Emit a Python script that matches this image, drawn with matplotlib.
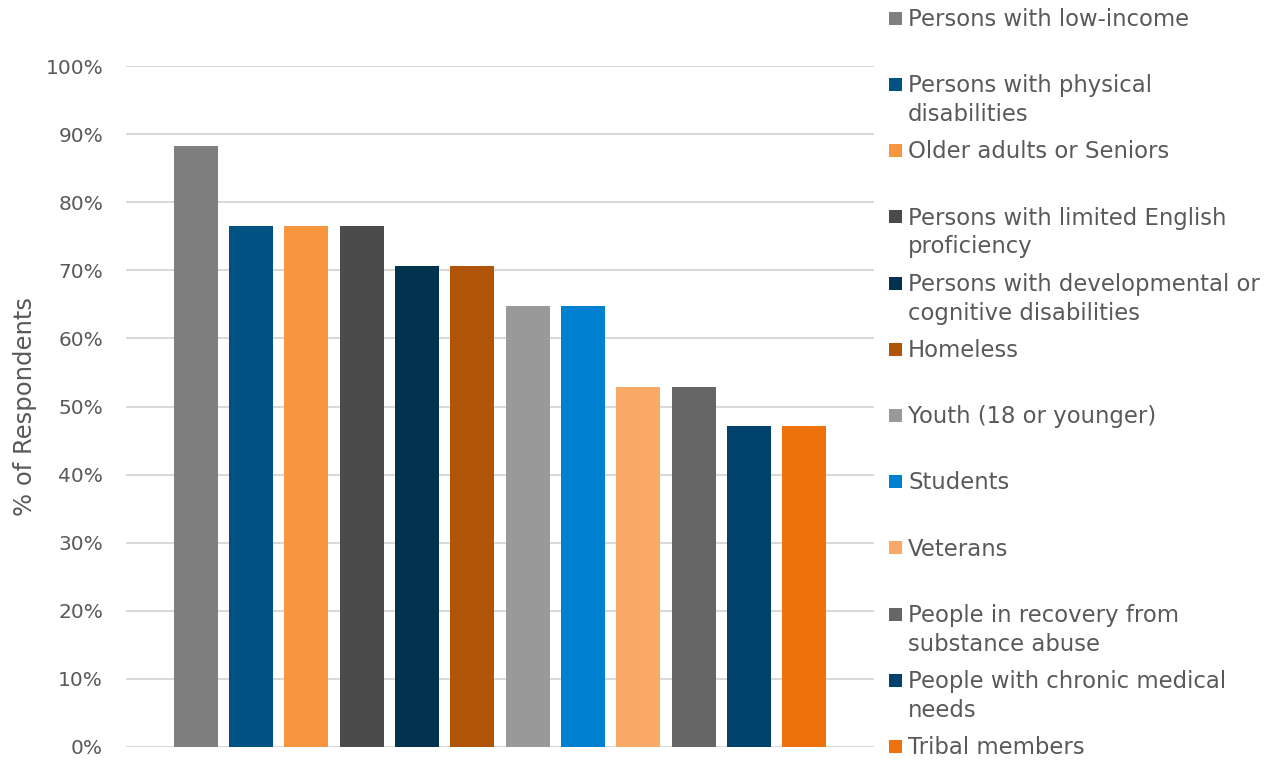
import matplotlib
matplotlib.use("Agg")
import matplotlib.pyplot as plt
from matplotlib.patches import Rectangle

categories = [
    "Persons with low-income",
    "Persons with physical\ndisabilities",
    "Older adults or Seniors",
    "Persons with limited English\nproficiency",
    "Persons with developmental or\ncognitive disabilities",
    "Homeless",
    "Youth (18 or younger)",
    "Students",
    "Veterans",
    "People in recovery from\nsubstance abuse",
    "People with chronic medical\nneeds",
    "Tribal members",
]
values = [0.882, 0.765, 0.765, 0.765, 0.706, 0.706, 0.647, 0.647, 0.529, 0.529, 0.471, 0.471]
colors = ["#7f7f7f", "#015282", "#f7963e", "#4b4b4b", "#01324e", "#b05508",
          "#999999", "#0080d0", "#f8a966", "#666666", "#01426c", "#ed720c"]
yticks = [0, 0.1, 0.2, 0.3, 0.4, 0.5, 0.6, 0.7, 0.8, 0.9, 1.0]
ytick_labels = ["0%", "10%", "20%", "30%", "40%", "50%", "60%", "70%", "80%", "90%", "100%"]
ylabel = "% of Respondents"

W, H = 1280, 761
FONT = "DejaVu Sans"
TXT = "#595959"

fig = plt.figure(figsize=(W / 100, H / 100), dpi=100)
ax = fig.add_axes([126 / W, (H - 747) / H, 748 / W, 681 / H])

xs = list(range(len(values)))
ax.bar(xs, values, width=0.795, color=colors, zorder=3)
ax.set_xlim(-1.264, len(values) - 1 + 1.264)
ax.set_ylim(0, 1.0)
ax.set_yticks(yticks)
ax.set_yticklabels(ytick_labels, fontsize=14.5, color=TXT, family=FONT)
ax.set_xticks([])
ax.tick_params(axis="y", length=0, pad=16.5)
ax.grid(axis="y", color="#d9d9d9", linewidth=1.5, zorder=0)
for s in ax.spines.values():
    s.set_visible(False)

fig.text(25 / W, 1 - 406 / H, ylabel, rotation=90, ha="center", va="center",
         fontsize=17.5, color=TXT, family=FONT)

# legend (manual, Excel-style)
y0, step, line_h = 18.3, 66.2, 28.8
for i, (lab, col) in enumerate(zip(categories, colors)):
    yc = y0 + step * i
    fig.patches.append(Rectangle((889 / W, 1 - (yc + 6.5) / H), 13 / W, 13 / H,
                                 transform=fig.transFigure, facecolor=col,
                                 edgecolor="none"))
    for j, line in enumerate(lab.split("\n")):
        yb = yc + 7.7 + j * line_h
        fig.text(908 / W, 1 - yb / H, line, ha="left", va="baseline",
                 fontsize=16.4, color=TXT, family=FONT)

fig.savefig("out.png", dpi=100, facecolor="white")
